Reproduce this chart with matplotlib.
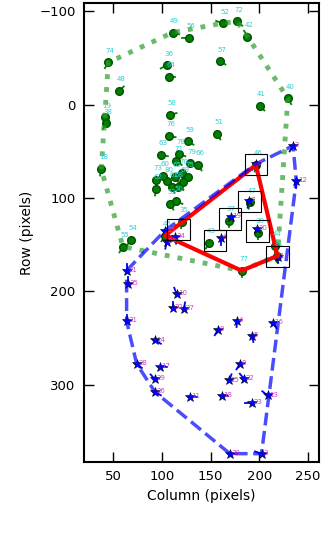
import numpy as np
import matplotlib
matplotlib.use('Agg')
from matplotlib import pyplot as plt
from matplotlib.patches import Rectangle

# green features: label, column, row, tail angle (deg, 0 = right, 90 = down)
green_id = [49, 56, 52, 72, 42, 74, 36, 64, 57, 48, 40, 41, 58, 76, 59, 51,
            19, 38, 18, 63, 78, 71, 79, 66, 73, 62, 80, 60, 65, 70, 75, 69,
            61, 68, 53, 50, 46, 47, 37, 39, 43, 35, 45, 44, 81, 77, 54, 55]
green_x = [110.9, 127.3, 162.2, 177.2, 187.8, 44.9, 104.8, 106.8, 159.1, 55.8,
           229.2, 200.2, 108.2, 107.1, 126.3, 156.4, 41.2, 42.8, 37.7, 99.2,
           117.4, 114.9, 128.7, 137.2, 94.1, 94.1, 105.4, 101.0, 113.3, 120.2,
           126.3, 121.8, 110.5, 116.0, 108.2, 114.9, 196.4, 190.2, 168.7, 198.4,
           148.5, 120.8, 103.0, 215.8, 218.6, 181.7, 67.8, 59.9]
green_y = [-77.1, -71.3, -87.1, -88.9, -72.8, -45.0, -42.1, -29.6, -46.4, -14.3,
           -6.5, 1.4, 11.0, 33.8, 39.5, 31.3, 13.8, 20.2, 69.1, 54.1,
           53.0, 60.2, 63.0, 64.5, 80.9, 90.5, 82.2, 76.6, 77.3, 73.7,
           77.3, 82.7, 88.0, 88.0, 106.5, 103.0, 64.8, 104.7, 124.7, 137.5,
           148.2, 125.5, 140.4, 151.1, 162.1, 177.9, 144.7, 152.2]
green_ang = [15, 180, 200, 40, 240, 120, 150, 0, 30, -45, 60, 45, -15, 10, 30, 60,
             90, 120, 100, 10, 20, 40, 30, 60, 90, 100, 30, 40, 60, 80, 120, 90,
             70, 30, 60, 30, 100, 100, 90, 90, 120, 100, 120, 90, 90, 90, 120, 120]

# blue features
blue_id = [2, 12, 3, 30, 26, 28, 31, 35, 21, 10, 32, 27, 14, 9, 4, 16, 5, 17,
           29, 8, 25, 22, 11, 18, 23, 13, 0, 7, 19, 20, 6, 34, 1, 15, 24]
blue_x = [234.6, 237.9, 202.2, 169.7, 92.8, 74.0, 63.7, 65.1, 63.7, 115.0,
          111.5, 122.5, 92.8, 157.7, 177.2, 214.1, 192.6, 97.9, 92.8, 180.0,
          169.0, 184.4, 128.7, 161.2, 192.0, 208.4, 196.4, 189.2, 170.7, 197.4,
          160.2, 113.3, 218.9, 103.0, 104.7]
blue_y = [44.2, 81.9, 373.9, 373.9, 307.9, 277.6, 232.0, 192.1, 177.9, 202.8,
          218.1, 218.8, 252.7, 241.0, 231.3, 233.8, 247.4, 281.2, 294.4, 277.6,
          295.5, 293.7, 313.3, 312.2, 319.4, 311.6, 63.7, 103.5, 120.4, 133.3,
          143.2, 142.1, 163.2, 135.1, 147.5]
blue_ang = [120, 90, 200, 0, 30, 40, 270, 270, 270, 250, 270, 280, 30, 120, 95,
            60, 80, 0, 230, 120, 290, 230, 0, 0, 180, 220, 120, 100, 90, 90,
            90, 80, 90, 100, 100]

# matched pairs (green label, blue label)
match_green = [46, 47, 37, 39, 43, 35, 81]
match_blue = [0, 7, 19, 20, 6, 34, 1]

# overlap polygon through green features
red_ids = [46, 81, 77, 45]


def hull(xs, ys):
    pts = sorted(zip(xs, ys))

    def cross(o, a, b):
        return (a[0] - o[0]) * (b[1] - o[1]) - (a[1] - o[1]) * (b[0] - o[0])
    lower, upper = [], []
    for p in pts:
        while len(lower) >= 2 and cross(lower[-2], lower[-1], p) <= 0:
            lower.pop()
        lower.append(p)
    for p in reversed(pts):
        while len(upper) >= 2 and cross(upper[-2], upper[-1], p) <= 0:
            upper.pop()
        upper.append(p)
    h = lower[:-1] + upper[:-1]
    h.append(h[0])
    return np.array(h)


def tails(ax, xs, ys, angs, color, L=7):
    for x, y, a in zip(xs, ys, angs):
        t = np.radians(a)
        ax.plot([x, x + L * np.cos(t)], [y, y + L * np.sin(t)], color=color,
                lw=1.3, zorder=3)


plt.rcParams['font.family'] = 'DejaVu Sans'
fig = plt.figure(figsize=(3.22, 5.45), dpi=100)
ax = fig.add_axes([0.261, 0.152, 0.729, 0.843])

tails(ax, green_x, green_y, green_ang, 'g')
ax.plot(green_x, green_y, 'o', color='g', mec='#005000', ms=5.5, zorder=4)
for i, x, y in zip(green_id, green_x, green_y):
    ax.text(x + 2, y - 12.5, str(i), color='#2fcfd6', fontsize=5,
            ha='center', va='center', zorder=6)

tails(ax, blue_x, blue_y, blue_ang, 'b')
ax.plot(blue_x, blue_y, '*', color='b', mec='k', mew=0.4, ms=7.5, zorder=4)
for i, x, y in zip(blue_id, blue_x, blue_y):
    ax.text(x + 1.5, y - 1, str(i), color='#d040d0', fontsize=5,
            ha='left', va='center', zorder=6)

gh = hull(green_x, green_y)
ax.plot(gh[:, 0], gh[:, 1], ':', color='#2e9e2e', lw=3.5, alpha=0.7, zorder=5)

rx = [green_x[green_id.index(i)] for i in red_ids + red_ids[:1]]
ry = [green_y[green_id.index(i)] for i in red_ids + red_ids[:1]]
ax.plot(rx, ry, '-', color='r', lw=3, zorder=5)

bh = hull(blue_x, blue_y)
ax.plot(bh[:, 0], bh[:, 1], '--', color='b', lw=2.5, alpha=0.7, zorder=5)

s = 11.5
for g, b in zip(match_green, match_blue):
    gi = green_id.index(g)
    bi = blue_id.index(b)
    cx = (green_x[gi] + blue_x[bi]) / 2
    cy = (green_y[gi] + blue_y[bi]) / 2
    ax.add_patch(Rectangle((cx - s, cy - s), 2 * s, 2 * s, fill=False,
                           ec='k', lw=0.8, zorder=6))

ax.set_xlim(20, 261)
ax.set_ylim(383, -109)
ax.set_xticks([50, 100, 150, 200, 250])
ax.set_yticks([-100, 0, 100, 200, 300])
ax.tick_params(direction='in', length=7, width=1, top=True, right=True,
               labelsize=9.5, pad=6)
for sp in ax.spines.values():
    sp.set_linewidth(1.5)
ax.set_xlabel('Column (pixels)', fontsize=10)
ax.set_ylabel('Row (pixels)', fontsize=10)

fig.savefig('out.png', dpi=100)
